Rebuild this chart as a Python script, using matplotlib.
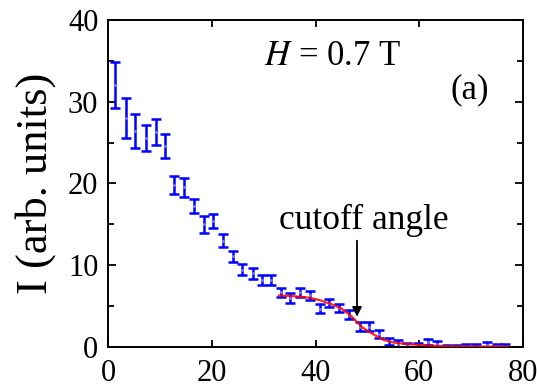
import matplotlib
matplotlib.use("Agg")
import matplotlib.pyplot as plt
from matplotlib.ticker import MultipleLocator

# Data
angle = [1.35, 3.5, 5.3, 7.3, 9.2, 10.9, 12.8, 14.7, 16.6, 18.5, 20.3, 22.1, 24.0,
         25.9, 27.9, 29.7, 31.5, 33.3, 35.1, 37.1, 38.9, 40.8, 42.6, 44.6, 46.5,
         48.6, 50.3, 52.3, 54.1, 55.9, 57.7, 59.7, 61.7, 63.4, 65.3, 67.2, 69.1,
         71.0, 73.0, 74.9, 76.5]
intensity = [32.05, 28.05, 26.4, 25.55, 26.3, 24.55, 19.8, 19.55, 17.2, 15.0, 15.4,
             13.0, 11.1, 9.45, 9.0, 8.2, 8.2, 6.7, 6.0, 6.7, 6.3, 4.7, 5.4, 4.8,
             3.95, 2.5, 2.5, 1.6, 0.7, 0.4, 0.15, 0.1, 0.6, 0.4, 0.0, 0.0, 0.05,
             0.05, 0.25, 0.1, 0.05]
error = [2.85, 2.45, 2.1, 1.55, 1.6, 1.45, 1.1, 1.15, 0.85, 1.0, 0.9, 0.8, 0.7, 0.65,
         0.65, 0.6, 0.6, 0.55, 0.6, 0.55, 0.55, 0.6, 0.5, 0.5, 0.55, 0.6, 0.5,
         0.45, 0.45, 0.4, 0.35, 0.35, 0.35, 0.35, 0.3, 0.3, 0.3, 0.3, 0.3, 0.3, 0.3]

fit_angle = [33, 35, 37, 39, 41, 43, 45, 47, 49, 51, 53, 55, 57, 59, 61, 63, 66, 70, 74, 77]
fit_intensity = [6.3, 6.25, 6.15, 6.0, 5.7, 5.25, 4.7, 3.7, 2.4, 1.6, 0.9, 0.55, 0.4,
                 0.3, 0.2, 0.15, 0.08, 0.05, 0.05, 0.05]

x_ticks = [0, 20, 40, 60, 80]
y_ticks = [0, 10, 20, 30, 40]

plt.rcParams['font.family'] = ['Liberation Serif', 'DejaVu Serif']
plt.rcParams['mathtext.fontset'] = 'stix'

fig = plt.figure(figsize=(5.37, 3.87), dpi=100)
ax = fig.add_axes([0.2011, 0.1034, 0.7729, 0.8450])

ax.errorbar(angle, intensity, yerr=error, fmt='o', color='#0000ff', ms=2.0,
            mfc='#8080ff', mec='none', elinewidth=1.8, capsize=3.4, capthick=1.8,
            zorder=2)
ax.plot(fit_angle, fit_intensity, color='#ff0000', lw=1.6, alpha=0.85, zorder=3)

ax.set_xlim(0, 80)
ax.set_ylim(0, 40)
ax.set_xticks(x_ticks)
ax.set_yticks(y_ticks)
ax.yaxis.set_minor_locator(MultipleLocator(5))

for s in ax.spines.values():
    s.set_linewidth(1.4)
ax.tick_params(axis='both', which='both', direction='in', top=True, right=True,
               labelsize=22, width=1.3)
ax.tick_params(axis='x', which='major', length=5, pad=9)
ax.tick_params(axis='y', which='major', length=6, pad=7)
ax.tick_params(axis='y', which='minor', length=4)

ax.set_ylabel('I (arb. units)', fontsize=32, va='center')
ax.yaxis.set_label_coords(-0.175, 0.50)

ax.text(43.2, 34.5, r'$H$ = 0.7 T', fontsize=25, ha='center', va='baseline')
ax.text(69.7, 31.4, '(a)', fontsize=25, ha='center', va='center')
ax.text(49.3, 14.4, 'cutoff angle', fontsize=25.5, ha='center', va='baseline')
ax.annotate('', xy=(48.0, 3.7), xytext=(48.0, 13.0),
            arrowprops=dict(arrowstyle='-|>', color='black', lw=1.3,
                            mutation_scale=14, shrinkA=0, shrinkB=0))

fig.savefig('out.png', dpi=100)
